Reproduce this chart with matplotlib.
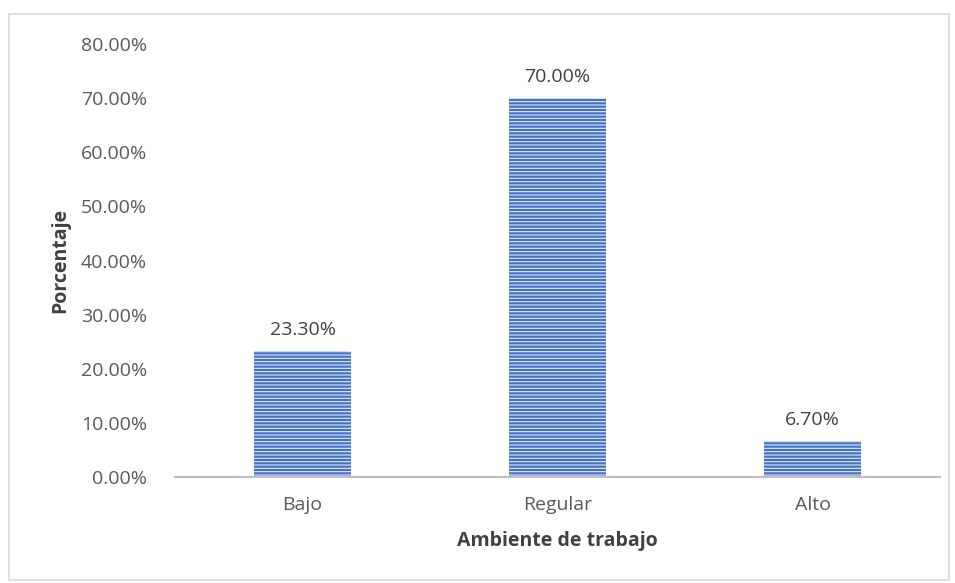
import matplotlib.pyplot as plt
from matplotlib.patches import Rectangle

###資料
categorias = ['Bajo', 'Regular', 'Alto']
porcentajes = [23.30, 70.00, 6.70]
etiquetas = ['23.30%', '70.00%', '6.70%']
yticks = [0, 10, 20, 30, 40, 50, 60, 70, 80]

plt.rcParams['font.family'] = ['Open Sans', 'DejaVu Sans']
plt.rcParams['hatch.color'] = '#e3e9f6'
plt.rcParams['hatch.linewidth'] = 0.8

fig = plt.figure(figsize=(9.55, 5.83), dpi=100)
ax = fig.add_axes([175/955, 1-477/583, 765/955, 433/583])

###外框
fig.patches.append(Rectangle((9/955, 3/583), 940/955, 566/583, transform=fig.transFigure,
                             fill=False, edgecolor='#d9d9d9', linewidth=1.2))

x = range(len(categorias))
bars = ax.bar(x, porcentajes, width=0.38, color='#4472c4', hatch='-----',
              linewidth=0)
for b in bars:
    b.set_edgecolor('#e3e9f6')

for xi, v, t in zip(x, porcentajes, etiquetas):
    ax.text(xi, v + 2.2, t, ha='center', va='bottom', fontsize=14, color='#404040')

ax.set_xlim(-0.5, 2.5)
ax.set_ylim(0, 80)
ax.set_yticks(yticks)
ax.set_yticklabels(['%.2f%%' % v for v in yticks])
ax.set_xticks(list(x))
ax.set_xticklabels(categorias)
ax.tick_params(axis='both', length=0, labelsize=14, labelcolor='#595959')
ax.tick_params(axis='y', pad=20)
ax.tick_params(axis='x', pad=14)

for s in ['top', 'right', 'left']:
    ax.spines[s].set_visible(False)
ax.spines['bottom'].set_color('#bfbfbf')
ax.spines['bottom'].set_linewidth(1.5)

ax.set_xlabel('Ambiente de trabajo', fontsize=14, fontweight='bold', color='#404040', labelpad=12)
ax.set_ylabel('Porcentaje', fontsize=14, fontweight='bold', color='#404040', labelpad=8)

fig.savefig('out.png', dpi=100)
